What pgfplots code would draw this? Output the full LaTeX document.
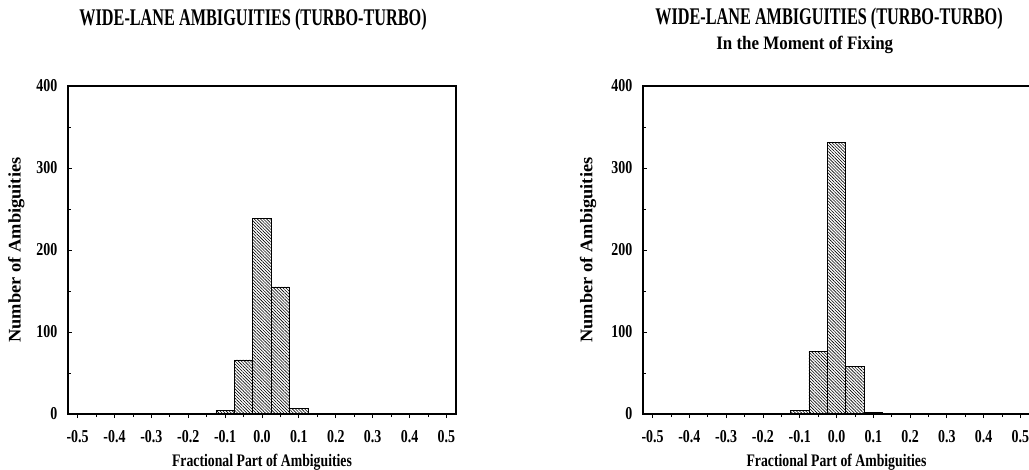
\documentclass[border=0pt]{standalone}
\usepackage{pgfplots}
\pgfplotsset{compat=1.18}
\usepackage{graphicx}
\usepackage{fontspec}
\setmainfont{Liberation Serif}
\usetikzlibrary{patterns.meta}
\newcommand{\T}[1]{\scalebox{1}[1.3]{#1}}
\newcommand{\tickfont}{\bfseries\fontsize{14}{16}\selectfont}

\pgfplotstableread{
x y
-0.15 1
-0.10 4
-0.05 66
0.00 239
0.05 155
0.10 7
0.20 1
}\lefttab
\pgfplotstableread{
x y
-0.15 1
-0.10 4
-0.05 76
0.00 331
0.05 58
0.10 2
}\righttab

\pgfplotsset{
  hist/.style={
    scale only axis,
    clip=false,
    height=328bp,
    xmin=-0.526, xmax=0.526,
    ymin=0, ymax=400,
    axis line style={line width=1.3bp},
    xtick={-0.5,-0.4,-0.3,-0.2,-0.1,0,0.1,0.2,0.3,0.4,0.5},
    xticklabels={\T{-0.5},\T{-0.4},\T{-0.3},\T{-0.2},\T{-0.1},\T{0.0},\T{0.1},\T{0.2},\T{0.3},\T{0.4},\T{0.5}},
    ytick={0,100,200,300,400},
    yticklabels={\T{0},\T{100},\T{200},\T{300},\T{400}},
    minor x tick num=1,
    minor y tick num=1,
    xtick pos=left, ytick pos=left,
    xtick align=outside, ytick align=inside,
    major tick length=4bp, minor tick length=3bp,
    every tick/.style={black, line width=0.8bp},
    xticklabel style={font=\tickfont, anchor=base, yshift=-24.5bp},
    yticklabel style={font=\tickfont, anchor=east, inner sep=0pt, xshift=-10.5bp},
    xlabel={\scalebox{1}[1.28]{Fractional Part of Ambiguities}},
    xlabel style={font=\bfseries\fontsize{13.8}{15}\selectfont, at={(axis description cs:0.5,-0.1607)}, anchor=base},
    ylabel={\scalebox{1.32}[1.27]{Number of Ambiguities}},
    ylabel style={font=\bfseries\fontsize{14}{16}\selectfont, rotate=0, anchor=center},
    title style={font=\bfseries\fontsize{16.3}{18}\selectfont, anchor=base},
  },
  hbar/.style={ybar, bar width=0.05, bar shift=0pt, draw=black, line width=0.7bp,
    pattern={Lines[angle=-45,distance=2.2pt,line width=0.6pt]}},
}

\begin{document}
\begin{tikzpicture}
\useasboundingbox (0,0) rectangle (1029bp,470bp);
\begin{axis}[hist, at={(68bp,56bp)}, anchor=south west, width=388bp,
  ylabel style={at={(axis description cs:-0.133,0.5)}},
  title={\scalebox{1}[1.47]{WIDE-LANE AMBIGUITIES (TURBO-TURBO)}},
  title style={at={(axis description cs:0.477,1.1677)}}]
\addplot[hbar] table[x=x,y=y] {\lefttab};
\end{axis}
\begin{axis}[hist, at={(643bp,56bp)}, anchor=south west, width=387bp,
  ylabel style={at={(axis description cs:-0.142,0.5)}},
  title={\scalebox{1}[1.47]{WIDE-LANE AMBIGUITIES (TURBO-TURBO)}},
  title style={at={(axis description cs:0.4806,1.1707)}}]
\addplot[hbar] table[x=x,y=y] {\righttab};
\node[font=\bfseries\fontsize{17}{19}\selectfont, anchor=base] at (axis description cs:0.418,1.112) {\scalebox{1}[1.12]{In the Moment of Fixing}};
\end{axis}
\end{tikzpicture}
\end{document}
